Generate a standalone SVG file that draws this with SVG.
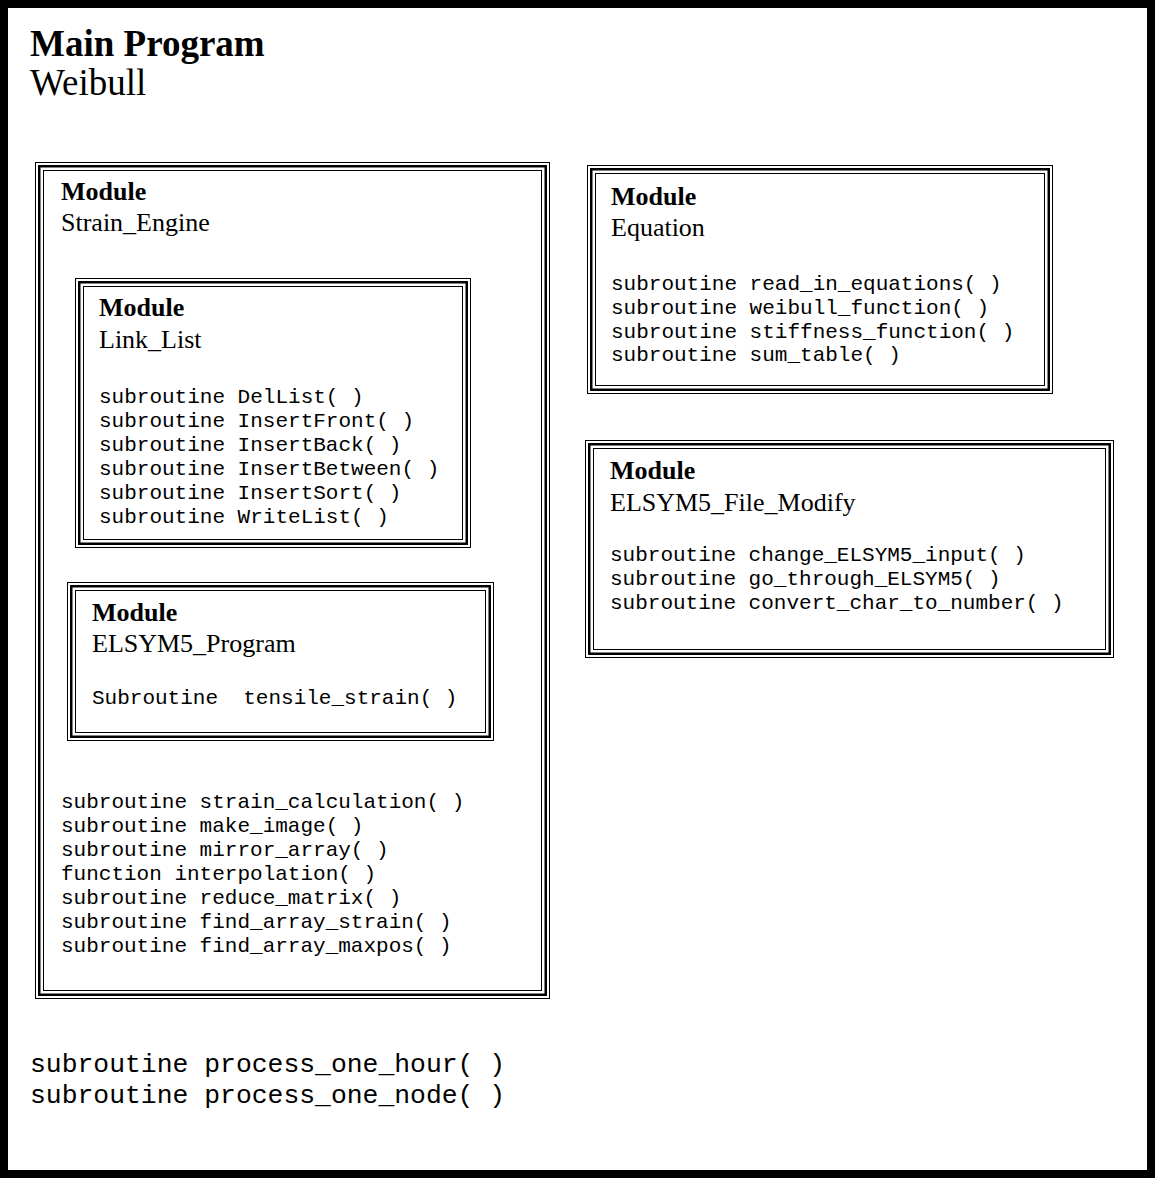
<svg xmlns="http://www.w3.org/2000/svg" width="1155" height="1178" viewBox="0 0 1155 1178">
<style>
.o{fill:none;stroke:#000;stroke-width:1}
.m{fill:none;stroke:#000;stroke-width:2.5}
.t{font-family:"Liberation Serif","Times New Roman",serif;font-size:26px;fill:#000}
.b{font-weight:bold}
.c{font-family:"Liberation Mono","Courier New",monospace;font-size:21px;fill:#000;white-space:pre}
</style>
<rect width="1155" height="1178" fill="#fff"/>
<rect x="4" y="4" width="1147" height="1170" fill="none" stroke="#000" stroke-width="8"/>
<g id="main">
<text x="30" y="56" class="t b" style="font-size:37px">Main Program</text>
<text x="30" y="95" class="t" style="font-size:37px">Weibull</text>
<text x="30" y="1072" class="c" style="font-size:26.4px">subroutine process_one_hour( )</text>
<text x="30" y="1103" class="c" style="font-size:26.4px">subroutine process_one_node( )</text>
</g>
<g id="strain_engine">
<rect x="35.5" y="162.5" width="514" height="836" class="o"/>
<rect x="39.25" y="166.25" width="506.5" height="828.5" class="m"/>
<rect x="43.5" y="170.5" width="498" height="820" class="o"/>
<text x="61" y="200" class="t b">Module</text>
<text x="61" y="231" class="t">Strain_Engine</text>
<text x="61" y="808" class="c">subroutine strain_calculation( )</text>
<text x="61" y="832" class="c">subroutine make_image( )</text>
<text x="61" y="856" class="c">subroutine mirror_array( )</text>
<text x="61" y="880" class="c">function interpolation( )</text>
<text x="61" y="904" class="c">subroutine reduce_matrix( )</text>
<text x="61" y="928" class="c">subroutine find_array_strain( )</text>
<text x="61" y="952" class="c">subroutine find_array_maxpos( )</text>
</g>
<g id="link_list">
<rect x="75.5" y="278.5" width="395" height="269" class="o"/>
<rect x="79.25" y="282.25" width="387.5" height="261.5" class="m"/>
<rect x="83.5" y="286.5" width="379" height="253" class="o"/>
<text x="99" y="316" class="t b">Module</text>
<text x="99" y="348" class="t">Link_List</text>
<text x="99" y="403" class="c">subroutine DelList( )</text>
<text x="99" y="427" class="c">subroutine InsertFront( )</text>
<text x="99" y="451" class="c">subroutine InsertBack( )</text>
<text x="99" y="475" class="c">subroutine InsertBetween( )</text>
<text x="99" y="499" class="c">subroutine InsertSort( )</text>
<text x="99" y="523" class="c">subroutine WriteList( )</text>
</g>
<g id="elsym5_program">
<rect x="67.5" y="582.5" width="426" height="158" class="o"/>
<rect x="71.25" y="586.25" width="418.5" height="150.5" class="m"/>
<rect x="75.5" y="590.5" width="410" height="142" class="o"/>
<text x="92" y="621" class="t b">Module</text>
<text x="92" y="652" class="t">ELSYM5_Program</text>
<text x="92" y="704" class="c">Subroutine  tensile_strain( )</text>
</g>
<g id="equation">
<rect x="587.5" y="165.5" width="465" height="228" class="o"/>
<rect x="591.25" y="169.25" width="457.5" height="220.5" class="m"/>
<rect x="595.5" y="173.5" width="449" height="212" class="o"/>
<text x="611" y="205" class="t b">Module</text>
<text x="611" y="236" class="t">Equation</text>
<text x="611" y="290" class="c">subroutine read_in_equations( )</text>
<text x="611" y="314" class="c">subroutine weibull_function( )</text>
<text x="611" y="338" class="c">subroutine stiffness_function( )</text>
<text x="611" y="361" class="c">subroutine sum_table( )</text>
</g>
<g id="elsym5_file_modify">
<rect x="585.5" y="440.5" width="528" height="217" class="o"/>
<rect x="589.25" y="444.25" width="520.5" height="209.5" class="m"/>
<rect x="593.5" y="448.5" width="512" height="201" class="o"/>
<text x="610" y="479" class="t b">Module</text>
<text x="610" y="511" class="t">ELSYM5_File_Modify</text>
<text x="610" y="561" class="c">subroutine change_ELSYM5_input( )</text>
<text x="610" y="585" class="c">subroutine go_through_ELSYM5( )</text>
<text x="610" y="609" class="c">subroutine convert_char_to_number( )</text>
</g>
<g id="connectors"></g>
</svg>
